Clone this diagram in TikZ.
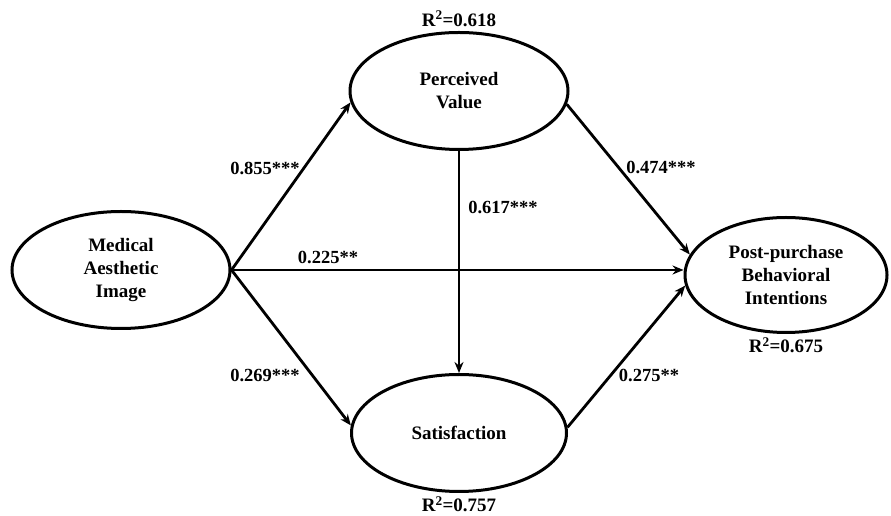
\documentclass[tikz,border=0pt]{standalone}
\usepackage{fontspec}
\setmainfont{Liberation Serif}
\usetikzlibrary{positioning,shapes.geometric,arrows.meta}

\begin{document}
\begin{tikzpicture}[x=1pt,y=1pt,line width=3pt,
    every node/.style={font=\bfseries\fontsize{19}{23}\selectfont,align=center},
    construct/.style={draw,ellipse,inner sep=0pt,minimum width=218pt,minimum height=117pt},
    rsq/.style={inner sep=2pt},
    coef/.style={font=\bfseries\fontsize{18.5}{22}\selectfont,inner sep=0pt},
    path/.style={-{Stealth[length=11pt,width=9pt]},line width=2.8pt}]
        \useasboundingbox (0,0) rectangle (891,516);
        \node[construct] (mai) at (121,246) {Medical\\Aesthetic\\Image};
        \node[construct] (pv) at (459,425) {Perceived\\Value};
        \node[construct,minimum width=215pt] (sat) at (459,83) {Satisfaction};
        \node[construct,minimum width=202pt,minimum height=115pt] (pbi) at (786,241) {Post-purchase\\Behavioral\\Intentions};
        \node[rsq,above=1pt of pv] (r2pv) {R\textsuperscript{2}=0.618};
        \node[rsq,below=0pt of sat] (r2sat) {R\textsuperscript{2}=0.757};
        \node[rsq,below=0pt of pbi] (r2pbi) {R\textsuperscript{2}=0.675};
        \draw[path] (mai.east) -- (pv.186);
        \draw[path] (mai.east) -- (sat.176);
        \draw[path] (mai.east) -- (pbi.west |- mai.east);
        \draw[path] (pv.south) -- (sat.north);
        \draw[path] (pv.353) -- (pbi.168);
        \draw[path] (sat.3) -- (pbi.186);
        \node[coef] (b1) at (265,348) {0.855***};
        \node[coef] (b2) at (265,141) {0.269***};
        \node[coef] (b3) at (328,259) {0.225**};
        \node[coef] (b4) at (503,309) {0.617***};
        \node[coef] (b5) at (661,349) {0.474***};
        \node[coef] (b6) at (649,141) {0.275**};
    \end{tikzpicture}
\end{document}
